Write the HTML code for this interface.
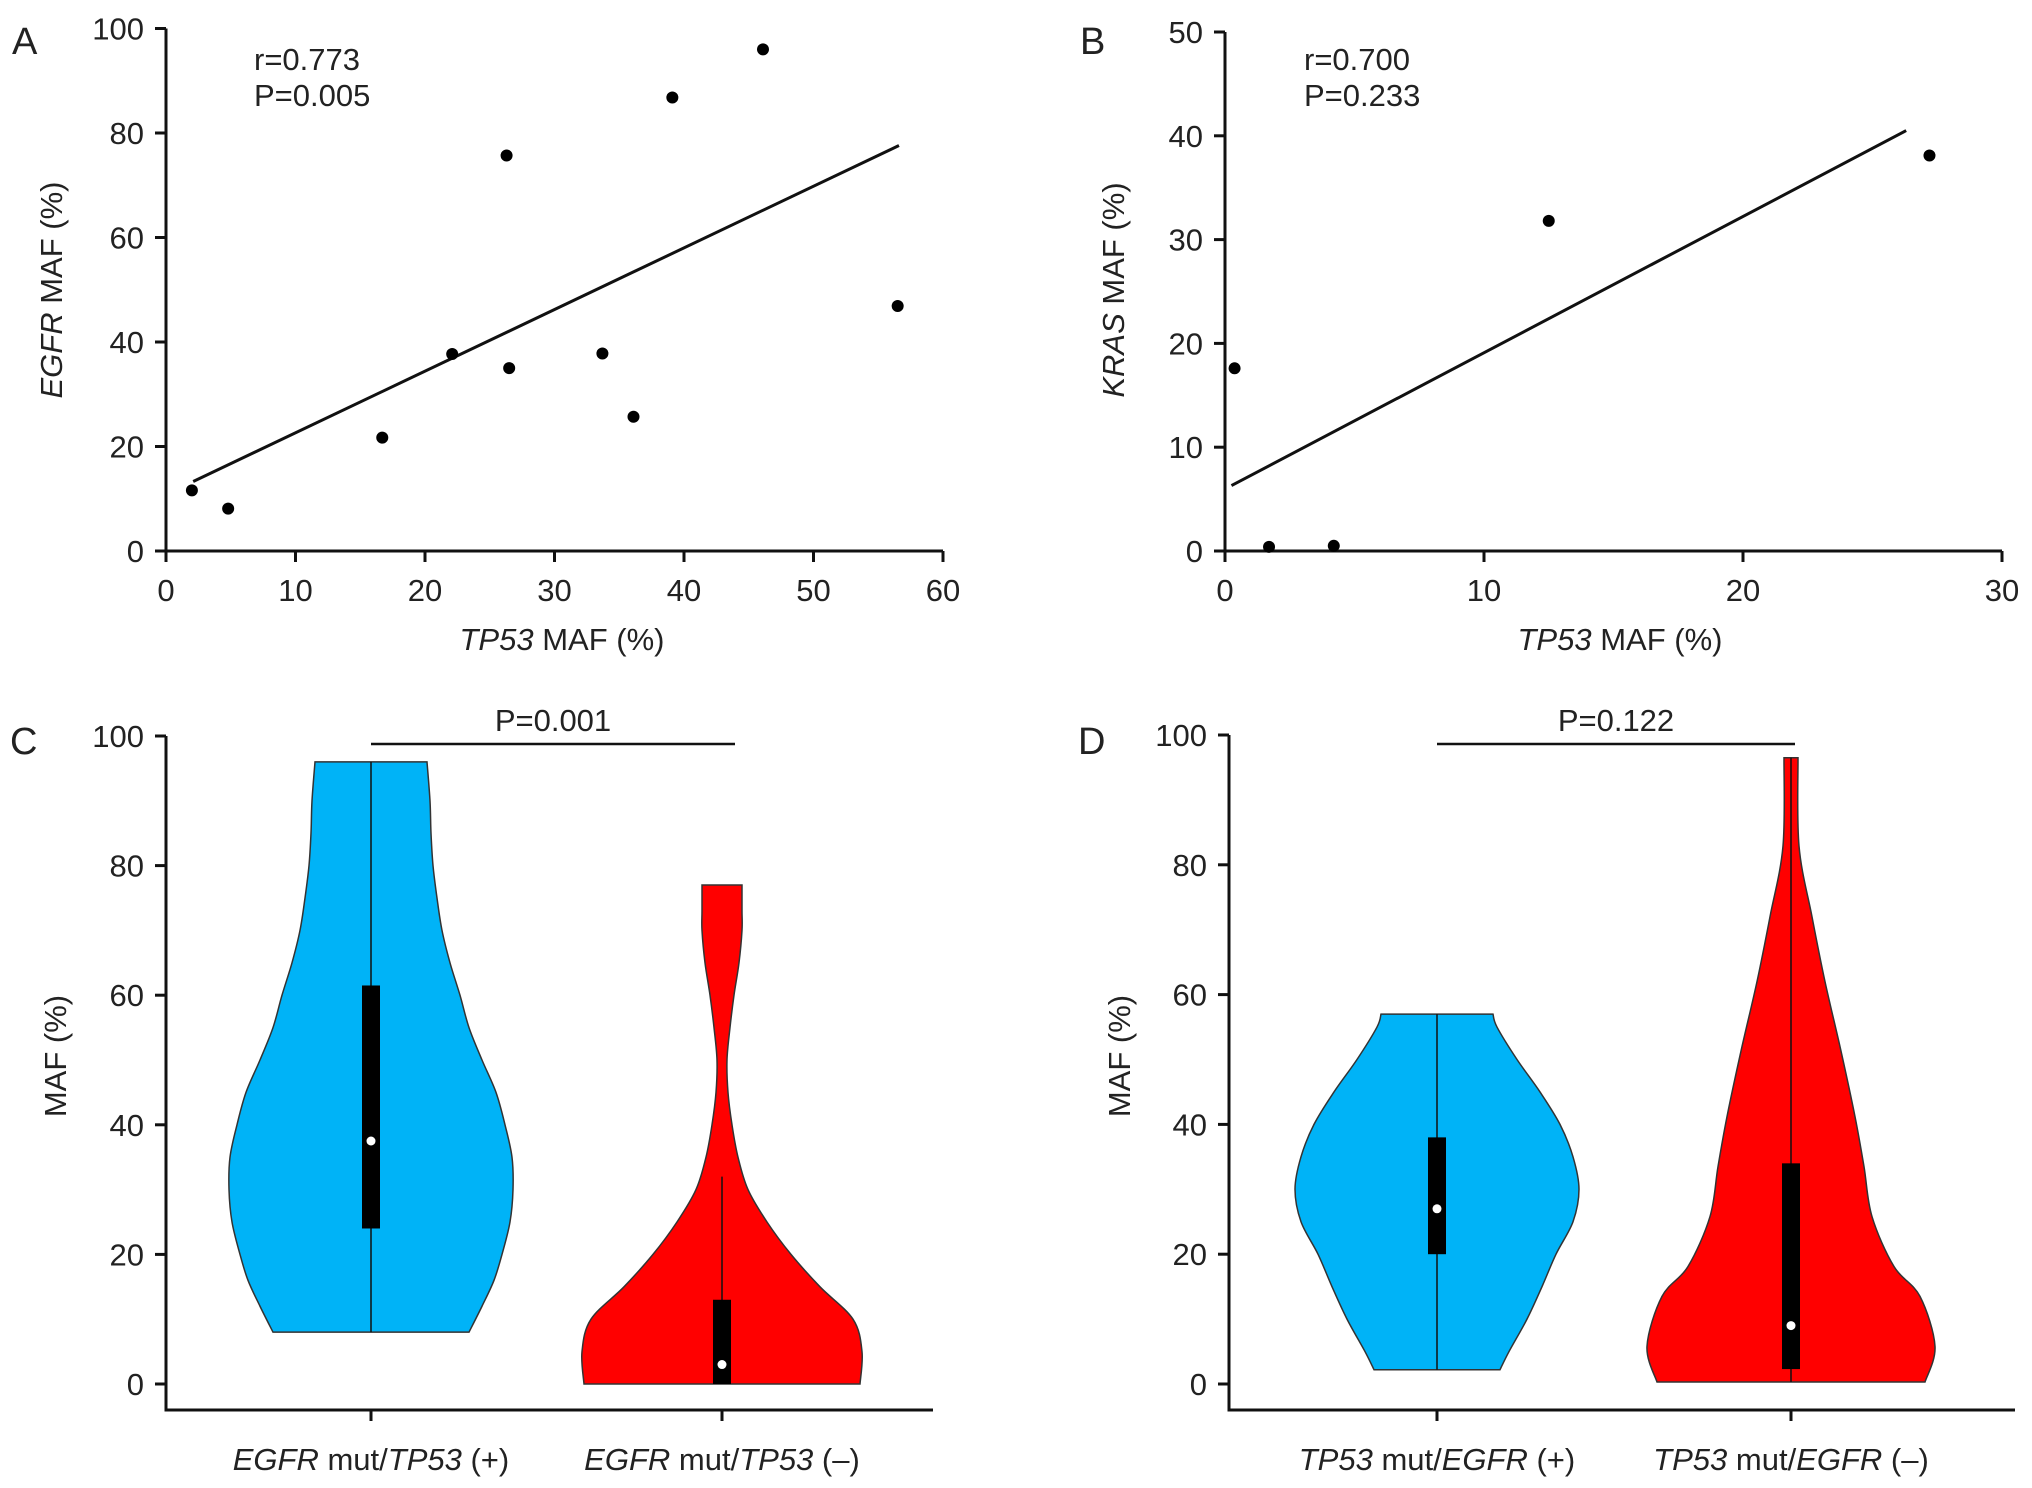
<!DOCTYPE html>
<html><head><meta charset="utf-8">
<style>
html,body{margin:0;padding:0;background:#fff;}
svg{display:block;font-family:"Liberation Sans",Arial,sans-serif;}
text{fill:#222;}
</style></head>
<body>
<svg id="fig" width="2032" height="1488" viewBox="0 0 2032 1488" xmlns="http://www.w3.org/2000/svg"></svg>
<script>
// ---------- Panel A data ----------
const aX = [2.0, 4.8, 16.7, 22.1, 26.3, 26.5, 33.7, 36.1, 39.1, 46.1, 56.5];
const aY = [11.6, 8.1, 21.7, 37.7, 75.7, 35.0, 37.8, 25.7, 86.8, 96.0, 46.9];
const aLineX = [2.1, 56.6];
const aLineY = [13.3, 77.6];
const aXTicks = [0, 10, 20, 30, 40, 50, 60];
const aYTicks = [0, 20, 40, 60, 80, 100];
// ---------- Panel B data ----------
const bX = [0.37, 1.7, 4.2, 12.5, 27.2];
const bY = [17.6, 0.4, 0.5, 31.8, 38.1];
const bLineX = [0.25, 26.3];
const bLineY = [6.3, 40.5];
const bXTicks = [0, 10, 20, 30];
const bYTicks = [0, 10, 20, 30, 40, 50];
// ---------- Panel C data ----------
const cBlueVals = [8, 12, 16, 20, 25, 30, 35, 40, 45, 50, 55, 60, 65, 70, 75, 80, 85, 90, 96];
const cBlueDens = [98, 111, 123, 131, 139, 142, 141, 134, 125, 111, 98, 89, 79, 71, 66, 62, 60, 59, 56];
const cRedVals = [0, 5, 10, 15, 20, 25, 30, 35, 40, 45, 50, 55, 60, 65, 70, 73, 77];
const cRedDens = [138, 140, 131, 98, 69, 45, 26, 16, 10, 6, 5, 8, 12, 17, 20, 20, 20];
const cBlueBox = [8, 24, 37.5, 61.5, 96];   // min, q1, median, q3, max
const cRedBox = [0, 0, 3, 13, 32];
const cP = "P=0.001";
// ---------- Panel D data ----------
const dBlueVals = [2.2, 5, 10, 15, 20, 25, 30, 35, 40, 45, 50, 55, 57];
const dBlueDens = [63, 72, 90, 105, 119, 136, 142, 136, 123, 103, 80, 60, 56];
const dRedVals = [0.3, 5.8, 13.5, 18.1, 25.8, 33.5, 41.2, 51.3, 62, 72, 82.9, 96.5];
const dRedDens = [134, 144, 129, 103, 81, 73, 64, 50, 34, 21, 8, 7];
const dBlueBox = [2.2, 20, 27, 38, 57];
const dRedBox = [0.3, 2.3, 9, 34, 96.5];
const dP = "P=0.122";
const vTicks = [0, 20, 40, 60, 80, 100];

const NS = "http://www.w3.org/2000/svg";
const svg = document.getElementById("fig");
function el(tag, attrs, parent) {
  const e = document.createElementNS(NS, tag);
  for (const k in attrs) e.setAttribute(k, attrs[k]);
  (parent || svg).appendChild(e);
  return e;
}
function lin(d0, d1, p0, p1) { return v => p0 + (v - d0) / (d1 - d0) * (p1 - p0); }
const FS = 31;

function richText(g, x, y, parts, anchor, rot) {
  const t = el("text", {x: x, y: y, "font-size": FS, "text-anchor": anchor || "middle"}, g);
  if (rot) t.setAttribute("transform", `rotate(-90 ${x} ${y})`);
  parts.forEach(p => {
    const s = el("tspan", {}, t);
    if (p[1]) s.setAttribute("font-style", "italic");
    s.textContent = p[0];
  });
  return t;
}

function scatterPanel(cfg) {
  const g = el("g", {});
  
  
  const sx = lin(cfg.xd[0], cfg.xd[1], cfg.xp[0], cfg.xp[1]);
  const sy = lin(cfg.yd[0], cfg.yd[1], cfg.yp[0], cfg.yp[1]);
  const ax = el("path", {d: `M${cfg.xp[0]} ${cfg.yp[1]} V${cfg.yp[0]} H${cfg.xp[1]}`, stroke: "#111", "stroke-width": 3, fill: "none"}, g);
  
  
  cfg.xt.forEach(v => {
    el("line", {x1: sx(v), x2: sx(v), y1: cfg.yp[0], y2: cfg.yp[0] + 11, stroke: "#111", "stroke-width": 3}, g);
    const t = el("text", {x: sx(v), y: cfg.yp[0] + 50, "font-size": FS, "text-anchor": "middle"}, g);
    
    
    t.textContent = v;
  });
  cfg.yt.forEach(v => {
    el("line", {x1: cfg.xp[0] - 11, x2: cfg.xp[0], y1: sy(v), y2: sy(v), stroke: "#111", "stroke-width": 3}, g);
    const t = el("text", {x: cfg.xp[0] - 22, y: sy(v) + 11, "font-size": FS, "text-anchor": "end"}, g);
    
    
    t.textContent = v;
  });
  const ln = el("line", {x1: sx(cfg.lx[0]), y1: sy(cfg.ly[0]), x2: sx(cfg.lx[1]), y2: sy(cfg.ly[1]), stroke: "#111", "stroke-width": 3}, g);
  
  
  cfg.px.forEach((v, i) => {
    const c = el("circle", {cx: sx(v), cy: sy(cfg.py[i]), r: 6, fill: "#000"}, g);
    
    
  });
  const xt = richText(g, cfg.xTitleX, 650, cfg.xTitle, "middle");
  
  
  const yt = richText(g, cfg.yTitleX, 290, cfg.yTitle, "middle", true);
  
  
  const r1 = el("text", {x: cfg.annX, y: 70, "font-size": FS}, g);
  
  
  r1.textContent = cfg.r;
  const r2 = el("text", {x: cfg.annX, y: 106, "font-size": FS}, g);
  
  
  r2.textContent = cfg.p;
  const L = el("text", {x: cfg.letterX, y: 54, "font-size": 38}, g);
  
  
  L.textContent = cfg.letter;
}

scatterPanel({name: "panel-a", xd: [0, 60], xp: [166, 943], yd: [0, 100], yp: [551, 28.5],
  xt: aXTicks, yt: aYTicks, px: aX, py: aY, lx: aLineX, ly: aLineY,
  xTitle: [["TP53", true], [" MAF (%)", false]], xTitleX: 562,
  yTitle: [["EGFR", true], [" MAF (%)", false]], yTitleX: 62,
  r: "r=0.773", p: "P=0.005", annX: 254, letter: "A", letterX: 12});
scatterPanel({name: "panel-b", xd: [0, 30], xp: [1225, 2002], yd: [0, 50], yp: [551, 32],
  xt: bXTicks, yt: bYTicks, px: bX, py: bY, lx: bLineX, ly: bLineY,
  xTitle: [["TP53", true], [" MAF (%)", false]], xTitleX: 1620,
  yTitle: [["KRAS", true], [" MAF (%)", false]], yTitleX: 1124,
  r: "r=0.700", p: "P=0.233", annX: 1304, letter: "B", letterX: 1080});

function violinPanel(cfg) {
  const g = el("g", {});
  
  
  const sy = lin(0, 100, cfg.y0, cfg.y100);
  const ax = el("path", {d: `M${cfg.axX} ${sy(100)} V${cfg.xAxY} H${cfg.xEnd}`, stroke: "#111", "stroke-width": 3, fill: "none"}, g);
  
  
  vTicks.forEach(v => {
    el("line", {x1: cfg.axX - 11, x2: cfg.axX, y1: sy(v), y2: sy(v), stroke: "#111", "stroke-width": 3}, g);
    const t = el("text", {x: cfg.axX - 22, y: sy(v) + 11, "font-size": FS, "text-anchor": "end"}, g);
    
    
    t.textContent = v;
  });
  function smooth(arr) {
    let s = `${arr[0][0]} ${arr[0][1]}`;
    for (let k = 0; k < arr.length - 1; k++) {
      const p0 = arr[Math.max(0, k - 1)], p1 = arr[k], p2 = arr[k + 1], p3 = arr[Math.min(arr.length - 1, k + 2)];
      const c1 = [p1[0] + (p2[0] - p0[0]) / 6, p1[1] + (p2[1] - p0[1]) / 6];
      const c2 = [p2[0] - (p3[0] - p1[0]) / 6, p2[1] - (p3[1] - p1[1]) / 6];
      s += ` C${c1[0]} ${c1[1]} ${c2[0]} ${c2[1]} ${p2[0]} ${p2[1]}`;
    }
    return s;
  }
  cfg.groups.forEach((gr, i) => {
    const cx = cfg.centers[i];
    const right = gr.vals.map((v, k) => [cx + gr.dens[k], sy(v)]);
    const left = gr.vals.map((v, k) => [cx - gr.dens[k], sy(v)]).reverse();
    const d = "M" + smooth(right) + " L" + smooth(left) + " Z";
    const p = el("path", {d: d, fill: gr.color, stroke: "#333", "stroke-width": 1.5}, g);
    
    
    const b = gr.box;
    const w = el("line", {x1: cx, x2: cx, y1: sy(b[0]), y2: sy(b[4]), stroke: "#111", "stroke-width": 1.5}, g);
    
    
    const r = el("rect", {x: cx - 9, y: sy(b[3]), width: 18, height: sy(b[1]) - sy(b[3]), fill: "#000"}, g);
    
    
    const m = el("circle", {cx: cx, cy: sy(b[2]), r: 4.5, fill: "#fff"}, g);
    
    
    el("line", {x1: cx, x2: cx, y1: cfg.xAxY, y2: cfg.xAxY + 11, stroke: "#111", "stroke-width": 3}, g);
    const lab = richText(g, cx, 1470, gr.label, "middle");
    
    
  });
  const sl = el("line", {x1: cfg.centers[0], x2: cfg.sigEnd, y1: 744, y2: 744, stroke: "#111", "stroke-width": 2.5}, g);
  
  
  const pt = el("text", {x: (cfg.centers[0] + cfg.sigEnd) / 2, y: 731, "font-size": FS, "text-anchor": "middle"}, g);
  
  
  pt.textContent = cfg.p;
  const yt = richText(g, cfg.yTitleX, 1056, [["MAF (%)", false]], "middle", true);
  
  
  const L = el("text", {x: cfg.letterX, y: 754, "font-size": 38}, g);
  
  
  L.textContent = cfg.letter;
}

violinPanel({name: "panel-c", axX: 166, xAxY: 1410, xEnd: 933, y0: 1384, y100: 736, centers: [371, 722], sigEnd: 735,
  p: cP, yTitleX: 66, letter: "C", letterX: 10,
  groups: [
    {id: "tp53-positive", vals: cBlueVals, dens: cBlueDens, box: cBlueBox, color: "#00b3f7", label: [["EGFR", true], [" mut/", false], ["TP53", true], [" (+)", false]]},
    {id: "tp53-negative", vals: cRedVals, dens: cRedDens, box: cRedBox, color: "#ff0000", label: [["EGFR", true], [" mut/", false], ["TP53", true], [" (–)", false]]}
  ]});
violinPanel({name: "panel-d", axX: 1229, xAxY: 1410, xEnd: 2015, y0: 1384, y100: 735, centers: [1437, 1791], sigEnd: 1795,
  p: dP, yTitleX: 1130, letter: "D", letterX: 1078,
  groups: [
    {id: "egfr-positive", vals: dBlueVals, dens: dBlueDens, box: dBlueBox, color: "#00b3f7", label: [["TP53", true], [" mut/", false], ["EGFR", true], [" (+)", false]]},
    {id: "egfr-negative", vals: dRedVals, dens: dRedDens, box: dRedBox, color: "#ff0000", label: [["TP53", true], [" mut/", false], ["EGFR", true], [" (–)", false]]}
  ]});
</script>
</body></html>
